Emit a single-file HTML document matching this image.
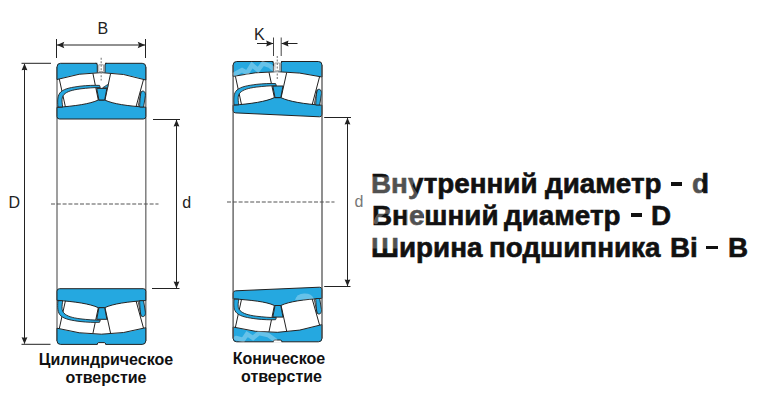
<!DOCTYPE html>
<html><head><meta charset="utf-8">
<style>
html,body{margin:0;padding:0;background:#fff;}
body{width:762px;height:408px;position:relative;overflow:hidden;}
svg{position:absolute;left:0;top:0;}
.big{position:absolute;font:bold 27px "Liberation Sans",sans-serif;color:#111;white-space:nowrap;transform-origin:0 0;transform:scaleX(1.03);line-height:32px;-webkit-text-stroke:0.6px #111;}
.dash{position:absolute;height:3.8px;background:#111;}
.lab{position:absolute;font:bold 16px "Liberation Sans",sans-serif;color:#111;white-space:nowrap;text-align:center;line-height:17.7px;}
</style></head><body>
<svg width="762" height="408" viewBox="0 0 762 408">

<!-- dimension lines bearing 1 -->
<g stroke="#222" stroke-width="1" fill="none">
  <path d="M56.5,39 V58 M145.5,39 V58 M57,45 H145"/>
  <path d="M21.5,63.3 H51 M21.5,344.3 H50.5 M24.5,64 V343.5"/>
  <path d="M153,119.5 H180 M152,288.5 H179.5 M176.5,120 V288"/>
</g>
<g fill="#222">
  <path d="M57,45 L64.3,41.8 L63,45 L64.3,48.2 Z M145,45 L137.7,41.8 L139,45 L137.7,48.2 Z"/>
  <path d="M24.5,63.5 L21.6,70.3 L24.5,69.7 L27.4,70.3 Z M24.5,344 L21.6,337.2 L24.5,337.8 L27.4,337.2 Z"/>
  <path d="M176.5,119.8 L173.6,126.6 L176.5,126 L179.4,126.6 Z M176.5,288.2 L173.6,281.4 L176.5,282 L179.4,281.4 Z"/>
</g>
<!-- bearing 1 sides -->
<path d="M57,67 V341 M145.8,67 V341" stroke="#777" stroke-width="1.4" fill="none"/>
<path d="M 57,79.5 L 57,66.9 Q 57,63.3 60.6,63.3 L 142.2,63.3 Q 145.8,63.3 145.8,66.9 L 145.8,80 Q 101.4,65.45 57,79.5 Z" fill="#25A8E0" stroke="#222" stroke-width="1"/>
<path d="M 57,107.4 C 75,106 90,104 98.3,100 L 104.7,100 C 113,104 128,106 145.8,107.2 L 145.8,116.5 Q 145.8,119 143.3,119 L 59.5,119 Q 57,119 57,116.5 Z" fill="#25A8E0" stroke="#222" stroke-width="1"/>
<path d="M 59.3,79.09 L 65.4,106.8 M 92.9,73.31 L 98.3,100 M 110.6,73.46 L 105,100 M 143.5,79.47 L 136.1,106.6" stroke="#222" stroke-width="1" fill="none"/>
<path d="M 96.7,88.4 L 106.9,88.4 L 104.7,100 L 98.9,100 Z" fill="#25A8E0" stroke="#222" stroke-width="1"/>
<path d="M 57.9,107 C 57.4,100 57.5,95 60.9,91.8 C 65,88.3 72,87.3 80,86.2 C 88,85.3 94,85.2 99.5,85.4 L 100.3,87.5 C 94,87.5 88,88 80,88.9 C 72,90 67,91.5 64,94.5 C 61.5,97 61.8,101 62.7,107 Z" fill="#25A8E0" stroke="#222" stroke-width="0.9"/>
<path d="M 102.7,87.7 L 107.2,84.8 L 108,84.6 L 107.6,87.7 Z" fill="#25A8E0" stroke="#222" stroke-width="0.7"/>
<path d="M 139.6,107 C 139.8,101.3 140.4,94.3 140.9,92.6 C 141.3,91.3 142.5,90.8 143.6,91.2 C 145,91.8 145.6,93.3 145.4,95.5 L 143.6,107 Z" fill="#25A8E0" stroke="#222" stroke-width="0.9"/>
<path d="M 141.1,91.2 L 138.1,106.5" stroke="#222" stroke-width="0.8"/>
<path d="M 97.3,61.8 L 105,61.8 L 105,72.2 L 97.3,72.2 Z" fill="#fff"/>
<path d="M 97.3,72.6 L 97.3,65.1 Q 97.3,63.3 95.6,63.3 M 105,72.6 L 105,65.1 Q 105,63.3 106.7,63.3" fill="none" stroke="#222" stroke-width="1"/>
<path d="M 98.8,64.8 L 103.5,64.8 L 103.5,71.6 L 98.8,71.6 Z" fill="none" stroke="#999" stroke-width="0.9"/>
<path d="M 101.2,57.8 L 101.2,80.6" stroke="#888" stroke-width="1.2" stroke-dasharray="2,1.5"/>
<path d="M 57,328.2 L 57,340.8 Q 57,344.4 60.6,344.4 L 142.2,344.4 Q 145.8,344.4 145.8,340.8 L 145.8,327.7 Q 101.4,340.45 57,328.2 Z" fill="#25A8E0" stroke="#222" stroke-width="1"/>
<path d="M 57,300.3 C 75,301.7 90,303.7 98.3,307.7 L 104.7,307.7 C 113,303.7 128,301.7 145.8,300.5 L 145.8,291.2 Q 145.8,288.7 143.3,288.7 L 59.5,288.7 Q 57,288.7 57,291.2 Z" fill="#25A8E0" stroke="#222" stroke-width="1"/>
<path d="M 59.3,328.52 L 65.4,300.9 M 92.9,333.52 L 98.3,307.7 M 110.6,333.38 L 105,307.7 M 143.5,328.14 L 136.1,301.1" stroke="#222" stroke-width="1" fill="none"/>
<path d="M 96.7,319.3 L 106.9,319.3 L 104.7,307.7 L 98.9,307.7 Z" fill="#25A8E0" stroke="#222" stroke-width="1"/>
<path d="M 57.9,300.7 C 57.4,307.7 57.5,312.7 60.9,315.9 C 65,319.4 72,320.4 80,321.5 C 88,322.4 94,322.5 99.5,322.3 L 100.3,320.2 C 94,320.2 88,319.7 80,318.8 C 72,317.7 67,316.2 64,313.2 C 61.5,310.7 61.8,306.7 62.7,300.7 Z" fill="#25A8E0" stroke="#222" stroke-width="0.9"/>
<path d="M 139.6,300.7 C 139.8,306.4 140.4,313.4 140.9,315.1 C 141.3,316.4 142.5,316.9 143.6,316.5 C 145,315.9 145.6,314.4 145.4,312.2 L 143.6,300.7 Z" fill="#25A8E0" stroke="#222" stroke-width="0.9"/>
<path d="M 141.1,316.5 L 138.1,301.2" stroke="#222" stroke-width="0.8"/>
<path d="M 97.3,345.4 L 98.3,342.6 L 104.7,342.6 L 105.7,345.4 Z" fill="#fff"/>
<path d="M 96.8,344.4 L 98.3,342.6 L 104.7,342.6 L 106.2,344.4" fill="none" stroke="#222" stroke-width="1"/>
<path d="M 233.1,76.4 L 233.1,65.1 Q 233.1,61.5 236.7,61.5 L 318.4,61.5 Q 322,61.5 322,65.1 L 322,77 Q 277.55,66.7 233.1,76.4 Z" fill="#25A8E0" stroke="#222" stroke-width="1"/>
<path d="M 233.1,105.2 C 251.1,103.8 266.1,101.6 274.4,97.6 L 280.8,97.6 C 289.1,101.6 304.1,104 322,105.2 L 322,114.3 Q 322,116.8 319.5,116.8 L 235.6,112.9 Q 233.1,112.9 233.1,110.4 Z" fill="#25A8E0" stroke="#222" stroke-width="1"/>
<path d="M 235.4,76.21 L 241.5,104.6 M 269,72.33 L 274.4,97.6 M 286.7,72.47 L 281.1,97.6 M 319.6,76.66 L 312.2,104.6" stroke="#222" stroke-width="1" fill="none"/>
<path d="M 272.8,86 L 283,86 L 280.8,97.6 L 275,97.6 Z" fill="#25A8E0" stroke="#222" stroke-width="1"/>
<path d="M 234,104.8 C 233.5,97.8 233.6,93.2 237,90 C 241.1,86.5 248.1,85.5 256.1,84.4 C 264.1,83.5 270.1,83.4 275.6,83.6 L 276.4,85.7 C 270.1,85.7 264.1,86.2 256.1,87.1 C 248.1,88.2 243.1,89.7 240.1,92.7 C 237.6,95.2 237.9,98.8 238.8,104.8 Z" fill="#25A8E0" stroke="#222" stroke-width="0.9"/>
<path d="M 315.7,105 C 315.9,99.5 316.5,92.5 317,90.8 C 317.4,89.5 318.6,89 319.7,89.4 C 321.1,90 321.7,91.5 321.5,93.7 L 319.7,105 Z" fill="#25A8E0" stroke="#222" stroke-width="0.9"/>
<path d="M 317.2,89.4 L 314.2,104.5" stroke="#222" stroke-width="0.8"/>
<path d="M 273.4,60 L 281.1,60 L 281.1,71.3 L 273.4,71.3 Z" fill="#fff"/>
<path d="M 273.4,71.7 L 273.4,63.3 Q 273.4,61.5 271.7,61.5 M 281.1,71.7 L 281.1,63.3 Q 281.1,61.5 282.8,61.5" fill="none" stroke="#222" stroke-width="1"/>
<path d="M 274.9,63 L 279.6,63 L 279.6,70.7 L 274.9,70.7 Z" fill="none" stroke="#999" stroke-width="0.9"/>
<path d="M 277.3,56 L 277.3,79.7" stroke="#888" stroke-width="1.2" stroke-dasharray="2,1.5"/>
<path d="M 233.1,327 L 233.1,338.2 Q 233.1,341.8 236.7,341.8 L 318.4,341.8 Q 322,341.8 322,338.2 L 322,324.6 Q 277.55,338.8 233.1,327 Z" fill="#25A8E0" stroke="#222" stroke-width="1"/>
<path d="M 233.1,298.8 C 251.1,300.2 266.1,301.5 274.4,305.5 L 280.8,305.5 C 289.1,301.5 304.1,299.5 322,298.3 L 322,289.7 Q 322,287.2 319.5,287.2 L 235.6,290.8 Q 233.1,290.8 233.1,293.3 Z" fill="#25A8E0" stroke="#222" stroke-width="1"/>
<path d="M 235.4,327.29 L 241.5,299.4 M 269,331.79 L 274.4,305.5 M 286.7,331.28 L 281.1,305.5 M 319.6,325.15 L 312.2,298.9" stroke="#222" stroke-width="1" fill="none"/>
<path d="M 272.8,317.1 L 283,317.1 L 280.8,305.5 L 275,305.5 Z" fill="#25A8E0" stroke="#222" stroke-width="1"/>
<path d="M 234,299.2 C 233.5,306.2 233.6,310.1 237,313.3 C 241.1,316.8 248.1,317.8 256.1,318.9 C 264.1,319.8 270.1,319.9 275.6,319.7 L 276.4,317.6 C 270.1,317.6 264.1,317.1 256.1,316.2 C 248.1,315.1 243.1,313.6 240.1,310.6 C 237.6,308.1 237.9,305.2 238.8,299.2 Z" fill="#25A8E0" stroke="#222" stroke-width="0.9"/>
<path d="M 315.7,298.5 C 315.9,303.8 316.5,310.8 317,312.5 C 317.4,313.8 318.6,314.3 319.7,313.9 C 321.1,313.3 321.7,311.8 321.5,309.6 L 319.7,298.5 Z" fill="#25A8E0" stroke="#222" stroke-width="0.9"/>
<path d="M 317.2,313.9 L 314.2,299" stroke="#222" stroke-width="0.8"/>
<path d="M 273.4,342.8 L 274.4,340 L 280.8,340 L 281.8,342.8 Z" fill="#fff"/>
<path d="M 272.9,341.8 L 274.4,340 L 280.8,340 L 282.3,341.8" fill="none" stroke="#222" stroke-width="1"/>
<!-- center dashed -->
<path d="M51,204 H158.5" stroke="#555" stroke-width="1.2" stroke-dasharray="4,1.8"/>
<!-- bearing 2 -->
<g stroke="#222" stroke-width="1" fill="none">
  <path d="M257,43.5 H273 M281.5,43.5 H297.5"/>
  <path d="M273.5,37.5 V56 M281.2,37.5 V56" stroke="#444"/>
  <path d="M324.2,117.5 H351 M324.2,286.5 H350.5 M347.5,118 V286" />
</g>
<g fill="#222">
  <path d="M273.3,43.5 L266.2,40.6 L267,43.5 L266.2,46.4 Z M281.4,43.5 L288.5,40.6 L287.7,43.5 L288.5,46.4 Z"/>
  <path d="M347.5,117.8 L344.6,124.6 L347.5,124 L350.4,124.6 Z M347.5,286.2 L344.6,279.4 L347.5,280 L350.4,279.4 Z"/>
</g>
<path d="M233.1,65 V338.5 M322,65 V338.5" stroke="#555" stroke-width="1.3" fill="none"/>
<path d="M227,202 H334.5" stroke="#555" stroke-width="1.2" stroke-dasharray="4,1.8"/>
<!-- letters -->
<g font-family="Liberation Sans" font-size="16" fill="#222">
  <text x="97.5" y="33.5">B</text>
  <text x="8.5" y="207.5">D</text>
  <text x="182.2" y="208.4">d</text>
  <text x="254" y="39.6">K</text>
  <text x="354.4" y="206.8" fill="#777">d</text>
</g>
</svg>
<div class="big" style="left:371.0px;top:168px">Внутренний</div>
<div class="big" style="left:544.8px;top:168px">диаметр</div>
<div class="big" style="left:691.5px;top:168px">d</div>
<div class="big" style="left:371.8px;top:200px">Внешний</div>
<div class="big" style="left:504.0px;top:200px">диаметр</div>
<div class="big" style="left:651.2px;top:200px">D</div>
<div class="big" style="left:371.4px;top:232px">Ширина</div>
<div class="big" style="left:489.3px;top:232px">подшипника</div>
<div class="big" style="left:669.8px;top:232px">Bi</div>
<div class="big" style="left:727.5px;top:232px">B</div>
<div class="dash" style="left:670.9px;top:181.8px;width:11.5px"></div>
<div class="dash" style="left:631.3px;top:213.4px;width:10.5px"></div>
<div class="dash" style="left:706.4px;top:245.7px;width:11.4px"></div>
<div class="lab" style="left:30px;top:351px;width:152px">Цилиндрическое</div>
<div class="lab" style="left:30px;top:368.7px;width:152px">отверстие</div>
<div class="lab" style="left:204px;top:350px;width:150px">Коническое</div>
<div class="lab" style="left:206.5px;top:367.7px;width:150px">отверстие</div>
<svg width="762" height="408" viewBox="0 0 762 408" style="position:absolute;left:0;top:0;pointer-events:none">
<g fill="#fff" fill-opacity="0.27">
  <path d="M371,176.6 L416,176.6 L412.5,186 L421,199 L371,199 Z"/>
  <path d="M406,210 L423,210 L423,226.5 L406,226.5 Z"/>
  <path d="M371,237 L399,237 L399,248.5 L371,248.5 Z"/>
  <path d="M691,175 L702,175 L702,194 L691,194 Z"/>
</g>
<g fill="none" stroke="#fff" stroke-opacity="0.3" stroke-linecap="round" stroke-width="4.5">
  <path d="M376,222 C378,214 385,210 390,212"/>
  <path d="M235,74 L242,70 L247,73 L252,65 L258,70 L263,63.5 L270,66 L276,71"/>
  <path d="M236,338 L243,340 L247,334 L253,338 L259,333 L268,335 L275,340"/>
</g>
<path d="M295,300 A10,8.5 0 0 1 314,299 Z" fill="#fff" fill-opacity="0.3"/>
</svg>
</body></html>
